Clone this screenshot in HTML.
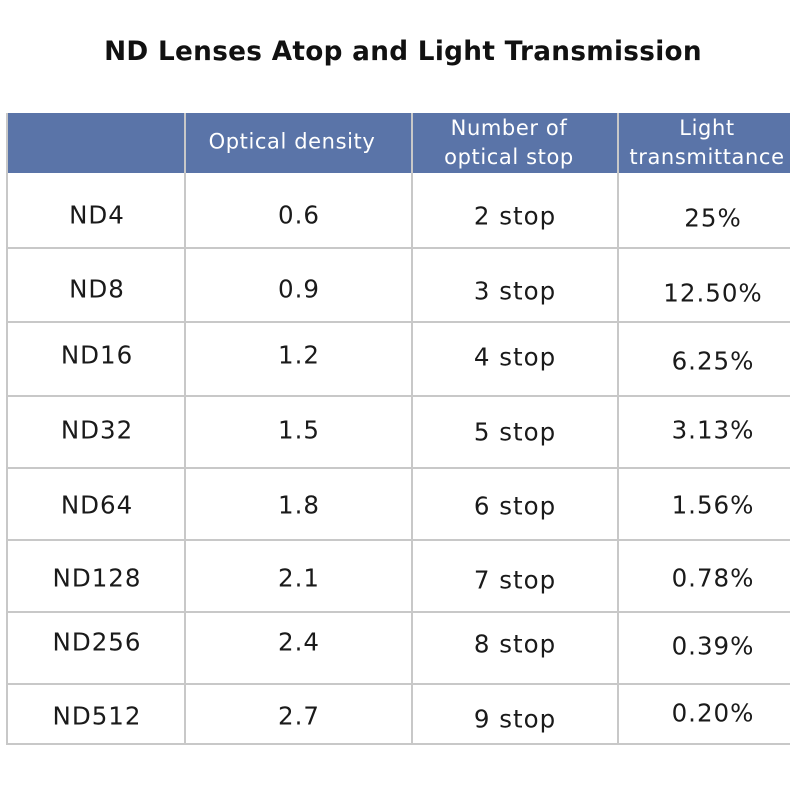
<!DOCTYPE html>
<html><head><meta charset="utf-8"><style>
body{margin:0;width:800px;height:800px;background:#fff;position:relative;font-family:"DejaVu Sans","Liberation Sans",sans-serif;overflow:hidden}
.t{position:absolute;transform:translate(-50%,-50%);white-space:nowrap;color:#1a1a1a;font-size:24.5px;letter-spacing:1px}
.h{color:#fff;font-size:21px;text-align:center;line-height:29px;letter-spacing:0.6px}
.l{position:absolute;background:#c8c8c8}
</style></head><body>
<div class="t" style="left:403px;top:52px;font-weight:bold;font-size:26.3px;color:#111;letter-spacing:0.3px">ND Lenses Atop and Light Transmission</div>
<div style="position:absolute;left:6px;top:113px;width:784px;height:60px;background:#5a74a8"></div>
<div class="l" style="left:6px;top:113px;width:2px;height:631px"></div>
<div class="l" style="left:184px;top:113px;width:2px;height:631px"></div>
<div class="l" style="left:411px;top:113px;width:2px;height:631px"></div>
<div class="l" style="left:617px;top:113px;width:2px;height:631px"></div>
<div class="l" style="left:6px;top:247px;width:784px;height:2px"></div>
<div class="l" style="left:6px;top:321px;width:784px;height:2px"></div>
<div class="l" style="left:6px;top:395px;width:784px;height:2px"></div>
<div class="l" style="left:6px;top:467px;width:784px;height:2px"></div>
<div class="l" style="left:6px;top:539px;width:784px;height:2px"></div>
<div class="l" style="left:6px;top:611px;width:784px;height:2px"></div>
<div class="l" style="left:6px;top:683px;width:784px;height:2px"></div>
<div class="l" style="left:6px;top:743px;width:784px;height:2px"></div>
<div class="t h" style="left:292px;top:142px">Optical density</div>
<div class="t h" style="left:509px;top:143px">Number of<br>optical stop</div>
<div class="t h" style="left:707px;top:143px">Light<br>transmittance</div>

<div class="t" style="left:97px;top:215px">ND4</div><div class="t" style="left:299px;top:215px">0.6</div><div class="t" style="left:515px;top:216px">2 stop</div><div class="t" style="left:713px;top:218px">25%</div>
<div class="t" style="left:97px;top:289px">ND8</div><div class="t" style="left:299px;top:289px">0.9</div><div class="t" style="left:515px;top:291px">3 stop</div><div class="t" style="left:713px;top:293px">12.50%</div>
<div class="t" style="left:97px;top:355px">ND16</div><div class="t" style="left:299px;top:355px">1.2</div><div class="t" style="left:515px;top:357px">4 stop</div><div class="t" style="left:713px;top:361px">6.25%</div>
<div class="t" style="left:97px;top:430px">ND32</div><div class="t" style="left:299px;top:430px">1.5</div><div class="t" style="left:515px;top:432px">5 stop</div><div class="t" style="left:713px;top:430px">3.13%</div>
<div class="t" style="left:97px;top:505px">ND64</div><div class="t" style="left:299px;top:505px">1.8</div><div class="t" style="left:515px;top:506px">6 stop</div><div class="t" style="left:713px;top:505px">1.56%</div>
<div class="t" style="left:97px;top:578px">ND128</div><div class="t" style="left:299px;top:578px">2.1</div><div class="t" style="left:515px;top:580px">7 stop</div><div class="t" style="left:713px;top:578px">0.78%</div>
<div class="t" style="left:97px;top:642px">ND256</div><div class="t" style="left:299px;top:642px">2.4</div><div class="t" style="left:515px;top:644px">8 stop</div><div class="t" style="left:713px;top:646px">0.39%</div>
<div class="t" style="left:97px;top:716px">ND512</div><div class="t" style="left:299px;top:716px">2.7</div><div class="t" style="left:515px;top:719px">9 stop</div><div class="t" style="left:713px;top:713px">0.20%</div>
</body></html>
